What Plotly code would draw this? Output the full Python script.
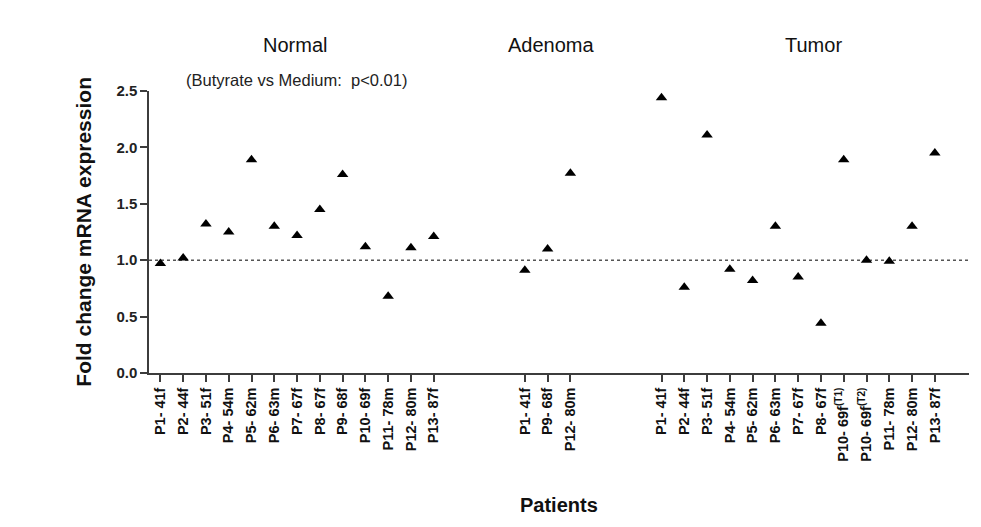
import plotly.graph_objects as go

# ---- data ----
normal_labels = ["P1- 41f", "P2- 44f", "P3- 51f", "P4- 54m", "P5- 62m", "P6- 63m", "P7- 67f",
                 "P8- 67f", "P9- 68f", "P10- 69f", "P11- 78m", "P12- 80m", "P13- 87f"]
normal_values = [0.97, 1.02, 1.32, 1.25, 1.89, 1.30, 1.22, 1.45, 1.76, 1.12, 0.68, 1.11, 1.21]

adenoma_labels = ["P1- 41f", "P9- 68f", "P12- 80m"]
adenoma_values = [0.91, 1.10, 1.77]

tumor_labels = ["P1- 41f", "P2- 44f", "P3- 51f", "P4- 54m", "P5- 62m", "P6- 63m", "P7- 67f",
                "P8- 67f", "P10- 69f<sup>(T1)</sup>", "P10- 69f<sup>(T2)</sup>", "P11- 78m",
                "P12- 80m", "P13- 87f"]
tumor_values = [2.44, 0.76, 2.11, 0.92, 0.82, 1.30, 0.85, 0.44, 1.89, 1.00, 0.99, 1.30, 1.95]

group_names = ["Normal", "Adenoma", "Tumor"]
group_starts = [0, 16, 22]   # slot index where each group begins on the x axis
y_ticks = [0.0, 0.5, 1.0, 1.5, 2.0, 2.5]

groups = [(normal_labels, normal_values), (adenoma_labels, adenoma_values), (tumor_labels, tumor_values)]

FONT = "Liberation Sans, Arial, sans-serif"
AX = "#3c3c3c"

fig = go.Figure()
tickvals, ticktext = [], []
for (labels, values), start in zip(groups, group_starts):
    xs = [start + i for i in range(len(labels))]
    tickvals += xs
    ticktext += labels
    fig.add_trace(go.Scatter(
        x=xs, y=values, mode="markers",
        marker=dict(symbol="triangle-up", size=10, color="black", line=dict(width=0)),
        cliponaxis=False, showlegend=False, hoverinfo="skip"))

last = group_starts[-1] + len(tumor_labels) - 1

fig.add_shape(type="line", xref="paper", yref="y", x0=0, x1=1, y0=1.0, y1=1.0,
              line=dict(color="#555555", width=1.5, dash="dot"), layer="below")

fig.update_layout(
    width=981, height=527,
    margin=dict(l=149, r=12, t=91, b=154),
    paper_bgcolor="white", plot_bgcolor="white",
    font=dict(family=FONT, color="#111111"),
    xaxis=dict(range=[-0.5, last + 1.5], tickmode="array", tickvals=tickvals, ticktext=ticktext,
               tickangle=-90, ticks="outside", ticklen=7, tickwidth=1.5, tickcolor=AX,
               showline=True, linecolor=AX, linewidth=1.5, showgrid=False, zeroline=False,
               tickfont=dict(family=FONT, size=14.5, color="#111111", weight="bold")),
    yaxis=dict(range=[0, 2.5], tickmode="array", tickvals=y_ticks, tickformat=".1f",
               ticks="outside", ticklen=7, tickwidth=1.5, tickcolor=AX,
               showline=True, linecolor=AX, linewidth=1.5, showgrid=False, zeroline=False,
               tickfont=dict(family=FONT, size=15, color="#222222", weight="bold")),
)

group_x = [0.1777, 0.4898, 0.8106]
for name, gx in zip(group_names, group_x):
    fig.add_annotation(text=name, xref="paper", yref="paper", x=gx, y=1.162,
                       xanchor="center", yanchor="middle",
                       showarrow=False, font=dict(family=FONT, size=20, color="#111111"))

fig.add_annotation(text="(Butyrate vs Medium:  p<0.01)", xref="paper", yref="paper",
                   x=0.1798, y=1.038, xanchor="center", yanchor="middle", showarrow=False,
                   font=dict(family=FONT, size=16.5, color="#222222"))

fig.add_annotation(text="<b>Fold change mRNA expression</b>", xref="paper", yref="paper",
                   x=-0.0809, y=0.5, xanchor="center", yanchor="middle",
                   textangle=-90, showarrow=False,
                   font=dict(family=FONT, size=21, color="#111111"))

fig.add_annotation(text="<b>Patients</b>", xref="paper", yref="paper",
                   x=0.5, y=-0.469, xanchor="center", yanchor="middle", showarrow=False,
                   font=dict(family=FONT, size=20, color="#111111"))

fig.write_html("out.html")
